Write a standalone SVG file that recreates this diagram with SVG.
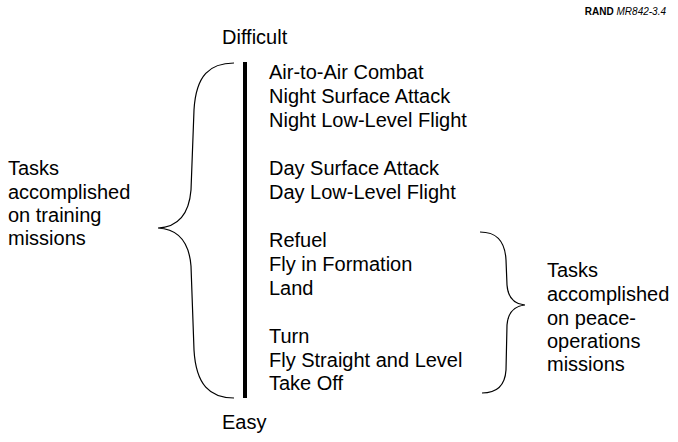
<svg xmlns="http://www.w3.org/2000/svg" width="678" height="442" viewBox="0 0 678 442">
<style>
text{font-family:"Liberation Sans",Arial,Helvetica,sans-serif;font-size:20px;fill:#000}
.brace{fill:none;stroke:#000;stroke-width:1.2}
.small{font-size:10px}
</style>
<rect width="678" height="442" fill="#fff"/>
<g id="credit"><text class="small" x="666" y="15" text-anchor="end"><tspan font-weight="bold">RAND</tspan> <tspan font-style="italic">MR842-3.4</tspan></text></g>
<g id="difficult"><text x="222" y="44">Difficult</text></g>
<g id="easy"><text x="222" y="429">Easy</text></g>
<g id="axis"><line x1="245" y1="62" x2="245" y2="398" stroke="#000" stroke-width="4"/></g>
<g id="tasks">
<text x="269" y="79">Air-to-Air Combat</text>
<text x="269" y="103">Night Surface Attack</text>
<text x="269" y="127">Night Low-Level Flight</text>
<text x="269" y="175">Day Surface Attack</text>
<text x="269" y="199">Day Low-Level Flight</text>
<text x="269" y="247">Refuel</text>
<text x="269" y="271">Fly in Formation</text>
<text x="269" y="295">Land</text>
<text x="269" y="343">Turn</text>
<text x="269" y="367">Fly Straight and Level</text>
<text x="269" y="390">Take Off</text>
</g>
<g id="training-label">
<text x="8" y="175">Tasks</text>
<text x="8" y="199">accomplished</text>
<text x="8" y="222">on training</text>
<text x="8" y="245">missions</text>
</g>
<g id="peace-label">
<text x="547" y="277">Tasks</text>
<text x="547" y="301">accomplished</text>
<text x="547" y="325">on peace-</text>
<text x="547" y="348">operations</text>
<text x="547" y="371">missions</text>
</g>
<g id="connectors">
<path class="brace" d="M234 63 C210 63 196 75 194 110 L191 190 C189 215 178 227 158 228 C178 229 189 241 191 266 L194 350 C196 385 210 398 234 398"/>
<path class="brace" d="M480 232 C496 232 505 240 506 260 L507 285 C508 298 514 304 525 305 C514 306 508 312 507 325 L506 370 C505 386 496 393 482 393"/>
</g>
</svg>
